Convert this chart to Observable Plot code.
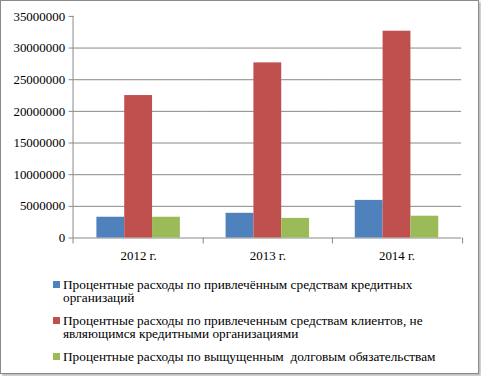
<!DOCTYPE html>
<html><head><meta charset="utf-8">
<script src="https://cdn.jsdelivr.net/npm/d3@7"></script>
<script src="https://cdn.jsdelivr.net/npm/@observablehq/plot@0.6"></script>
<style>
body{margin:0;background:#fff;}
#frame{position:absolute;left:0;top:0;width:477px;height:372px;border:1px solid #8a8a8a;box-shadow:2px 2px 2px #bbb;background:#fff;overflow:hidden;}
#chart{position:absolute;left:-1px;top:-1px;}
#chart svg text{font-family:'Liberation Serif' !important;font-size:13px !important;fill:#000;}
#legend{position:absolute;left:52px;top:277px;width:390px;font-family:'Liberation Serif';font-size:13.3px;line-height:13px;color:#000;}
.item{position:relative;padding-left:10px;margin-bottom:10px;white-space:pre-wrap;}
.sw{position:absolute;left:0;top:3px;width:7px;height:7px;}
</style></head>
<body>
<div id="frame"><div id="chart"></div><div id="legend"></div></div>
<script>
const years = ["2012 г.", "2013 г.", "2014 г."];
const seriesNames = [
  "Процентные расходы по привлечённым средствам кредитных организаций",
  "Процентные расходы по привлеченным средствам клиентов, не являющимся кредитными организациями",
  "Процентные расходы по выщущенным  долговым обязательствам"
];
const seriesColors = ["#4F81BD", "#C0504D", "#9BBB59"];
const banks = [3280000, 3900000, 5940000];
const clients = [22500000, 27660000, 32660000];
const bonds = [3280000, 3100000, 3440000];
const yTicks = [0, 5000000, 10000000, 15000000, 20000000, 25000000, 30000000, 35000000];
const gridTicks = yTicks.slice(0, -1);

const values = [banks, clients, bonds];
const data = [];
years.forEach((y, i) => values.forEach((v, s) => data.push({year: y, series: seriesNames[s], value: v[i]})));

const chart = Plot.plot({
  width: 481, height: 268,
  marginLeft: 73, marginRight: 16, marginTop: 16, marginBottom: 29,
  style: {background: "transparent", fontFamily: "'Liberation Serif'", fontSize: "13px"},
  fx: {domain: years, padding: 0, label: null, axis: null},
  x: {domain: seriesNames, paddingInner: 0, paddingOuter: 0.75, axis: null, label: null},
  y: {domain: [0, 35000000], ticks: yTicks, label: null},
  color: {domain: seriesNames, range: seriesColors},
  marks: [
    Plot.ruleY(gridTicks, {stroke: "#888", strokeWidth: 1, strokeOpacity: 1}),
    Plot.axisY({ticks: yTicks, tickFormat: d => String(d), tickSize: 5, tickPadding: 4, stroke: "#888", label: null}),
    Plot.barY(data, {fx: "year", x: "series", y: "value", fill: "series"}),
    Plot.axisFx({tickSize: 0, tickPadding: 13, label: null, anchor: "bottom"})
  ]
});
document.getElementById("chart").append(chart);

// vertical axis line and category boundary ticks from the chart's own scales
const fx = chart.scale("fx"), yS = chart.scale("y");
const svg = d3.select(chart);
const [y0, y1] = yS.range; // bottom, top
const left = fx.range[0], right = fx.range[1];
svg.append("line").attr("x1", left + 0.5).attr("x2", left + 0.5).attr("y1", y1).attr("y2", y0 + 6).attr("stroke", "#888");
const step = (right - left) / years.length;
for (let i = 1; i <= years.length; i++) {
  const x = Math.round(left + step * i) + 0.5;
  svg.append("line").attr("x1", x).attr("x2", x).attr("y1", y0).attr("y2", y0 + 6).attr("stroke", "#888");
}

const legend = document.getElementById("legend");
seriesNames.forEach((name, i) => {
  const d = document.createElement("div");
  d.className = "item";
  const sw = document.createElement("span");
  sw.className = "sw";
  sw.style.background = seriesColors[i];
  d.append(sw, document.createTextNode(name));
  legend.append(d);
});
</script>
</body></html>
